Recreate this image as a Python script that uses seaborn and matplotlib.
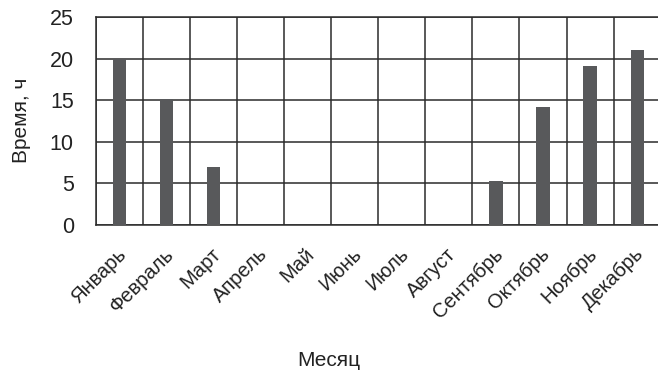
import matplotlib
matplotlib.use("Agg")
import matplotlib.pyplot as plt
import matplotlib.transforms as mtransforms
import numpy as np
import pandas as pd
import seaborn as sns

months = ["Январь", "Февраль", "Март", "Апрель", "Май", "Июнь",
          "Июль", "Август", "Сентябрь", "Октябрь", "Ноябрь", "Декабрь"]
hours = [20.0, 15.2, 7.0, 0, 0, 0, 0, 0, 5.3, 14.2, 19.1, 21.0]
y_ticks = [0, 5, 10, 15, 20, 25]

sns.set_theme(style="white")
plt.rcParams["font.family"] = ["Liberation Sans", "DejaVu Sans"]

df = pd.DataFrame({"month": months, "hours": hours})

fig = plt.figure(figsize=(6.58, 3.78), dpi=100)
ax = fig.add_axes([0.146, 0.405, 0.858, 0.55])

sns.barplot(data=df, x="month", y="hours", color="#58595b", width=0.28,
            saturation=1, linewidth=0, ax=ax, zorder=3)

ax.set_ylim(0, 25)
ax.set_yticks(y_ticks)
ax.set_xlim(-0.5, len(months) - 0.5)

# сетка по границам категорий
for x in np.arange(-0.5, len(months), 1.0):
    ax.axvline(x, color="#2b2b2b", lw=1.1, zorder=1)
for y in y_ticks:
    ax.axhline(y, color="#2b2b2b", lw=1.1, zorder=1)

for s in ax.spines.values():
    s.set_color("#2b2b2b")
    s.set_linewidth(1.1)

ax.tick_params(axis="both", length=0, colors="#222222")
ax.tick_params(axis="y", labelsize=15.5, pad=16)
ax.tick_params(axis="x", labelsize=14.5, pad=14)
shift = mtransforms.ScaledTranslation(-2 / 72, 0, fig.dpi_scale_trans)
for lbl in ax.get_xticklabels():
    lbl.set_rotation(45)
    lbl.set_ha("right")
    lbl.set_rotation_mode("anchor")
    lbl.set_transform(lbl.get_transform() + shift)

ax.set_xlabel("Месяц", fontsize=15, color="#222222")
ax.xaxis.set_label_coords(0.5, 0.072, transform=fig.transFigure)
ax.set_ylabel("Время, ч", fontsize=15, color="#222222")
ax.yaxis.set_label_coords(0.047, 0.683, transform=fig.transFigure)

fig.savefig("out.png", dpi=100)
